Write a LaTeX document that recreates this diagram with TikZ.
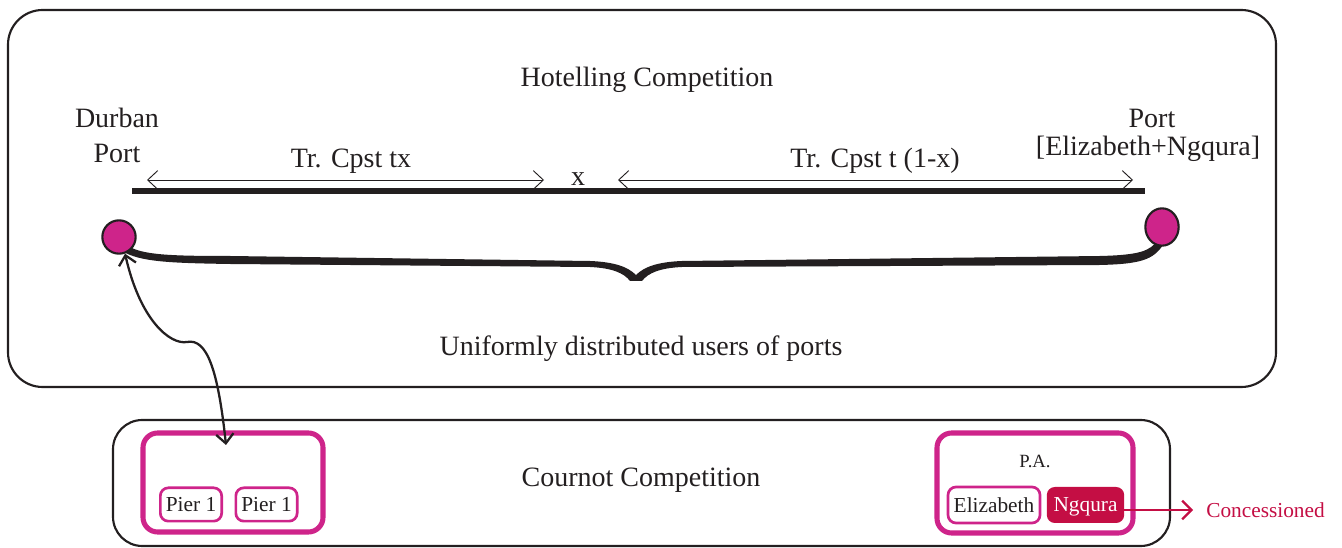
\documentclass[tikz,border=0pt]{standalone}
\usepackage{fontspec}
\setmainfont{Liberation Serif}
\usetikzlibrary{arrows.meta,shapes.geometric}
\definecolor{mag}{RGB}{206,36,138}
\definecolor{crim}{RGB}{196,14,68}
\definecolor{ink}{RGB}{35,31,32}
\tikzset{
  lbl/.style={text=ink, font=\fontsize{21}{23}\selectfont, inner sep=0pt},
  small/.style={text=ink, font=\fontsize{16}{18}\selectfont, inner sep=0pt},
  bigbox/.style={draw=ink, line width=1.6pt, rounded corners=26pt},
  magbox/.style={draw=mag, line width=3.8pt, rounded corners=11pt},
  pierbox/.style={draw=mag, line width=2pt, rounded corners=6pt},
  port/.style={circle, draw=ink, fill=mag, line width=1.6pt, minimum size=25pt, inner sep=0pt},
  thinarrow/.style={draw=ink, line width=0.7pt, {Straight Barb[length=7.5pt,width=14pt]}-{Straight Barb[length=7.5pt,width=14pt]}},
}
\begin{document}
\begin{tikzpicture}[x=0.75pt,y=-0.75pt]
\useasboundingbox (0,0) rectangle (1342,548);
% outer boxes
\draw[bigbox] (8,10) rectangle (1276,387);
\draw[bigbox, rounded corners=22pt] (113,420) rectangle (1170,546);
% top labels
\node[lbl] (hot) at (647,80) {Hotelling Competition};
\node[lbl] (durban) at (117,118) {Durban};
\node[lbl] (dport) at (117,153) {Port};
\node[lbl] (pport) at (1152,118) {Port};
\node[lbl] (pe) at (1148,149) {[Elizabeth+Ngqura]};
% main line
\coordinate (la) at (132,191);
\coordinate (lb) at (1145,191);
\draw[ink, line width=3.8pt] (la) -- (lb);
% cost arrows
\coordinate (a1) at (147,180);
\coordinate (a2) at (544,180);
\coordinate (b1) at (618,180);
\coordinate (b2) at (1133,180);
\draw[thinarrow] (a1) -- (a2);
\draw[thinarrow] (b1) -- (b2);
\node[lbl] (tx) at (351,161) {Tr. Cpst tx};
\node[lbl] (x) at (578,179) {x};
\node[lbl] (t1x) at (875,161) {Tr. Cpst t (1-x)};
% brace
\fill[ink] (127,245) .. controls (140,255) and (170,256) .. (230,256) -- (590,261)
  .. controls (615,262) and (628,267) .. (636,275)
  .. controls (644,267) and (657,262) .. (682,261) -- (1100,256)
  .. controls (1140,255) and (1150,251) .. (1158,240)
  -- (1163,245) .. controls (1153,260) and (1140,264) .. (1100,265) -- (682,267)
  .. controls (660,268) and (648,273) .. (642,281) -- (630,281)
  .. controls (624,273) and (612,268) .. (590,267) -- (230,264)
  .. controls (170,263) and (140,262) .. (122,251) -- cycle;
% ports
\node[port] (dp) at (119,237) {};
\node[ellipse, draw=ink, fill=mag, line width=1.6pt, minimum width=25pt, minimum height=28pt, inner sep=0pt] (ep) at (1162,227) {};
\node[lbl] (users) at (641,349) {Uniformly distributed users of ports};
% bottom
\node[lbl] (cour) at (641,480) {Cournot Competition};
\draw[magbox] (143,433) rectangle (323,532);
\node[pierbox, minimum width=46pt, minimum height=25pt, inner sep=0pt] (p1) at (191,504.5) {};
\node[small] at (p1) {Pier 1};
\node[pierbox, minimum width=46pt, minimum height=25pt, inner sep=0pt] (p2) at (266.5,504.5) {};
\node[small] at (p2) {Pier 1};
\coordinate (dur) at (226,445);
\draw[ink, line width=1.7pt, {Straight Barb[length=7pt,width=13pt]}-{Straight Barb[length=7pt,width=13pt]}]
  (dp.-70) .. controls (140,320) and (170,345) .. (187,342)
  .. controls (207,338) and (218,370) .. (dur);
\draw[magbox] (937,433) rectangle (1133,533);
\node[small, font=\fontsize{14}{16}\selectfont] (pa) at (1035,461) {P.A.};
\node[pierbox, minimum width=69pt, minimum height=27pt, inner sep=0pt] (eliz) at (994,505) {};
\node[small] at (eliz) {Elizabeth};
\node[fill=crim, rounded corners=6pt, minimum width=58pt, minimum height=27pt, inner sep=0pt] (ng) at (1085.5,505) {};
\node[small, text=white] at ([yshift=-1.5pt]ng.center) {Ngqura};
\coordinate (ce) at (1193,510);
\draw[crim, line width=1.6pt, -{Straight Barb[length=7pt,width=14pt]}] (ng.east |- ce) -- (ce);
\node[small, text=crim, anchor=west] (conc) at (1206,510) {Concessioned};
\end{tikzpicture}
\end{document}
